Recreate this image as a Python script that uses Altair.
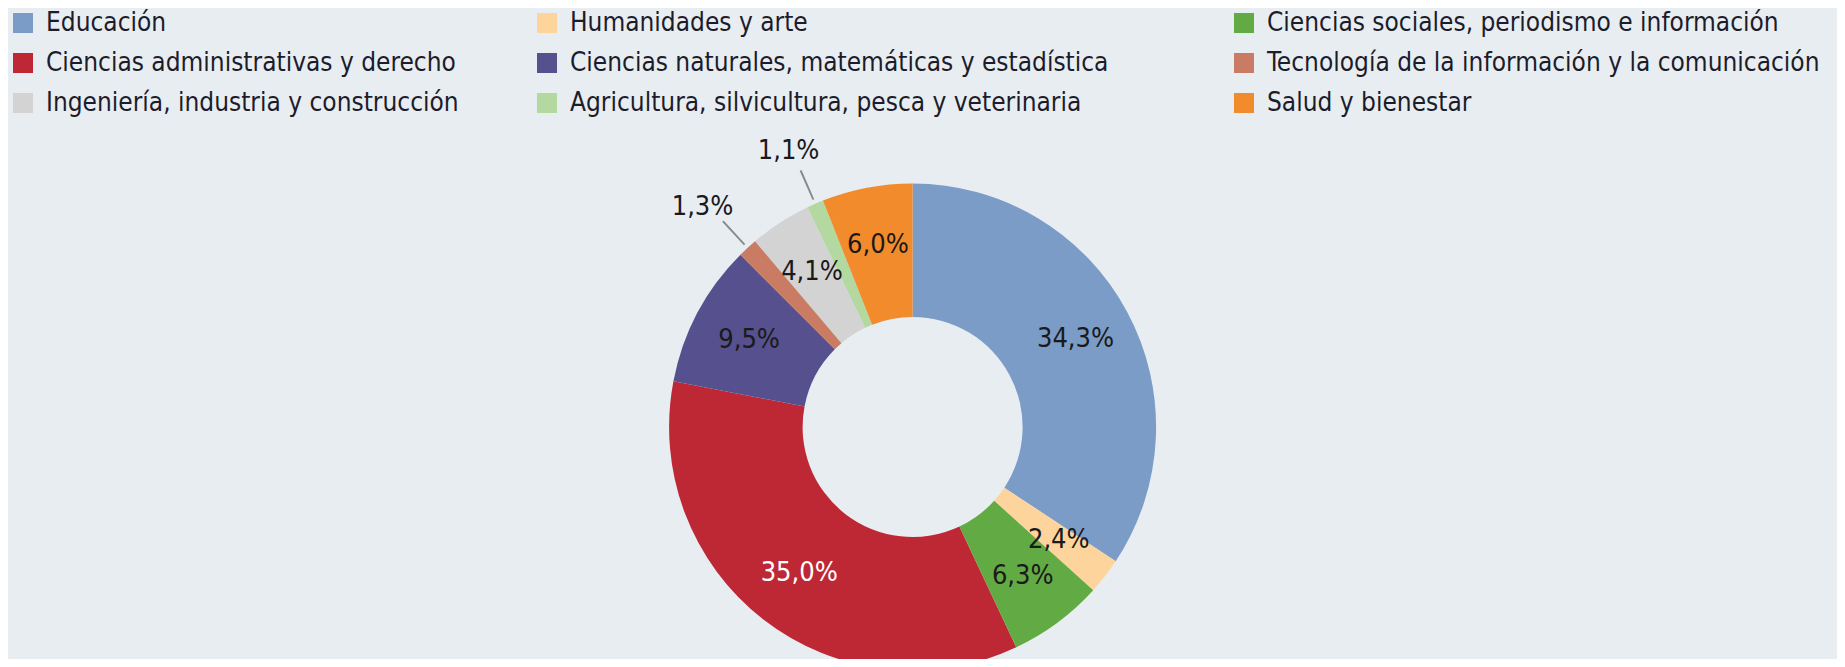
import altair as alt
import pandas as pd

categories = [
    "Educación",
    "Humanidades y arte",
    "Ciencias sociales, periodismo e información",
    "Ciencias administrativas y derecho",
    "Ciencias naturales, matemáticas y estadística",
    "Tecnología de la información y la comunicación",
    "Ingeniería, industria y construcción",
    "Agricultura, silvicultura, pesca y veterinaria",
    "Salud y bienestar",
]
values = [34.3, 2.4, 6.3, 35.0, 9.5, 1.3, 4.1, 1.1, 6.0]
labels = ["34,3%", "2,4%", "6,3%", "35,0%", "9,5%", "1,3%", "4,1%", "1,1%", "6,0%"]
colors = ["#7b9cc6", "#fdd49b", "#62ab44", "#be2835", "#56508e",
          "#c97c63", "#d3d3d3", "#b3d8a0", "#f28b2b"]

df = pd.DataFrame({
    "categoria": categories,
    "valor": values,
    "etiqueta": labels,
    "orden": list(range(len(categories))),
    "columna": [i % 3 for i in range(len(categories))],
})

FONT = "Liberation Sans Narrow, DejaVu Sans Condensed, Roboto Condensed, Arial Narrow, sans-serif"
CX, CY = 904.6, 419
R_OUT, R_IN = 243.5, 110

theta_scale = alt.Scale(domain=[0, 100], range=[0, 6.283185307179586])

base = alt.Chart(df).transform_window(
    fin="sum(valor)", sort=[alt.SortField("orden")], frame=[None, 0]
).transform_calculate(
    inicio="datum.fin - datum.valor",
    medio="datum.fin - datum.valor / 2",
    l0="datum.fin - datum.valor / 2 - 0.06",
    l1="datum.fin - datum.valor / 2 + 0.06",
)

legend_x = [2, 526, 1223]
layers = []
for k in range(3):
    dom = categories[k::3]
    rng = colors[k::3]
    layer = base.transform_filter(f"datum.columna == {k}").mark_arc(
        x=CX, y=CY, radius=R_OUT, radius2=R_IN
    ).encode(
        theta=alt.Theta("inicio:Q", scale=theta_scale),
        theta2="fin:Q",
        color=alt.Color(
            "categoria:N",
            scale=alt.Scale(domain=dom, range=rng),
            sort=dom,
            legend=alt.Legend(
                title=None,
                orient="none",
                legendX=legend_x[k],
                legendY=2,
                direction="vertical",
                symbolType="square",
                symbolSize=400,
                symbolStrokeWidth=0,
                symbolOpacity=1,
                labelFont=FONT,
                labelFontSize=26,
                labelColor="#1c1c2b",
                labelOffset=10,
                labelLimit=800,
                rowPadding=14,
                padding=0,
            ),
        ),
    )
    layers.append(layer)

inside = base.transform_filter("datum.valor > 1.5").mark_text(
    x=CX, y=CY, radius=185, font=FONT, fontSize=27, align="center", baseline="middle"
).encode(
    theta=alt.Theta("medio:Q", scale=theta_scale),
    text="etiqueta:N",
    color=alt.condition(
        "datum.categoria == 'Ciencias administrativas y derecho'",
        alt.value("#ffffff"),
        alt.value("#1a1a1a"),
    ),
)

leader = base.transform_filter("datum.valor <= 1.5").mark_arc(
    x=CX, y=CY, radius=280, radius2=248, color="#8a8a8a"
).encode(
    theta=alt.Theta("l0:Q", scale=theta_scale),
    theta2="l1:Q",
)

outside = base.transform_filter("datum.valor <= 1.5").mark_text(
    x=CX, y=CY, radius=310, dy=8, font=FONT, fontSize=27, align="center", baseline="middle",
    color="#1a1a1a",
).encode(
    theta=alt.Theta("medio:Q", scale=theta_scale),
    text="etiqueta:N",
)

chart = alt.layer(*layers, leader, inside, outside).resolve_scale(
    color="independent"
).properties(
    width=1829, height=651, autosize=alt.AutoSizeParams(type="none"), padding=0,
    background="#e8edf2",
).configure_view(stroke=None)

chart.save("out.html", embed_options={"renderer": "svg", "actions": False})
